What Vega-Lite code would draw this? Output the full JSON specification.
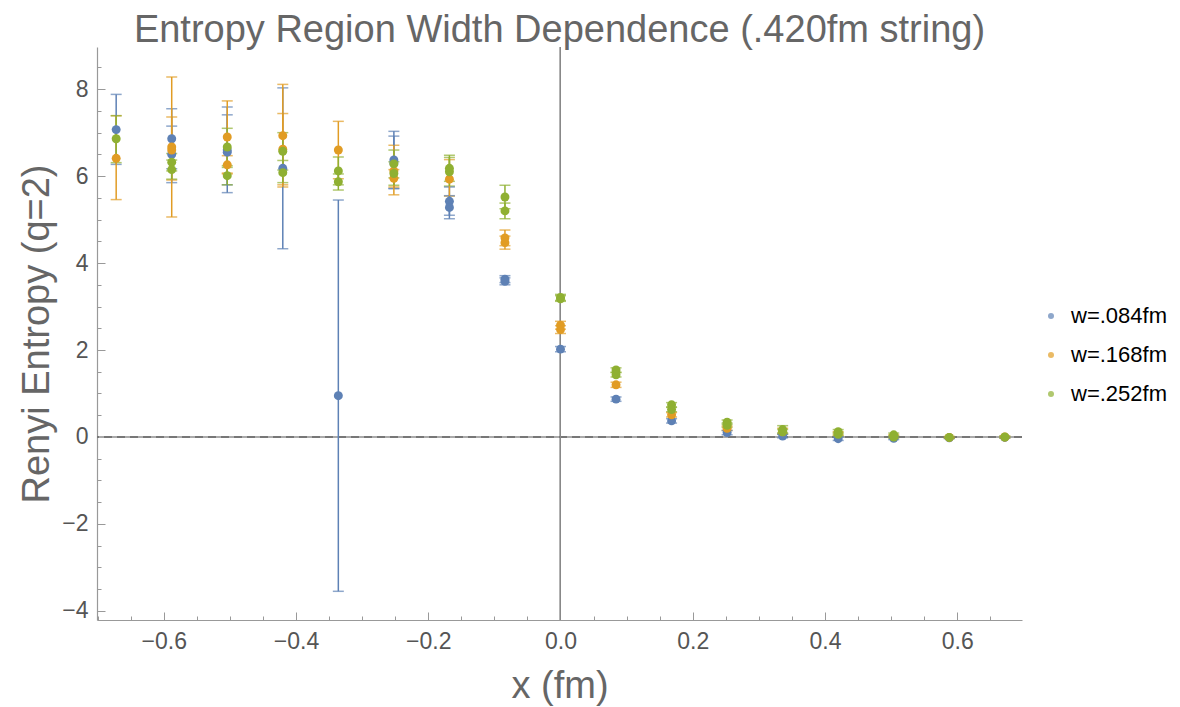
{
  "$schema": "https://vega.github.io/schema/vega-lite/v6.json",
  "autosize": {"type": "none"},
  "width": 925,
  "height": 573,
  "padding": {"left": 97, "top": 47, "right": 158, "bottom": 87},
  "background": "white",
  "config": {
    "font": "Liberation Sans",
    "view": {"stroke": null},
    "axis": {"grid": false, "domainColor": "#999999", "tickColor": "#999999", "labelColor": "#555555", "titleColor": "#666666", "labelFont": "Liberation Sans", "titleFont": "Liberation Sans", "titleFontWeight": "normal"}
  },
  "title": {"text": "Entropy Region Width Dependence (.420fm string)", "fontSize": 38, "font": "Liberation Sans", "fontWeight": "normal", "color": "#666666", "anchor": "middle", "offset": -3},
  "data": {"values": [
    {"x": -0.672, "y": 7.07, "lo": 6.27, "hi": 7.88, "w": "w=.084fm"},
    {"x": -0.588, "y": 6.86, "lo": 6.17, "hi": 7.55, "w": "w=.084fm"},
    {"x": -0.588, "y": 6.50, "lo": 5.85, "hi": 7.15, "w": "w=.084fm"},
    {"x": -0.504, "y": 6.60, "lo": 5.62, "hi": 7.59, "w": "w=.084fm"},
    {"x": -0.504, "y": 6.55, "lo": 5.80, "hi": 7.41, "w": "w=.084fm"},
    {"x": -0.42, "y": 6.18, "lo": 4.33, "hi": 8.03, "w": "w=.084fm"},
    {"x": -0.336, "y": 0.95, "lo": -3.55, "hi": 5.45, "w": "w=.084fm"},
    {"x": -0.252, "y": 6.37, "lo": 5.71, "hi": 7.03, "w": "w=.084fm"},
    {"x": -0.252, "y": 6.30, "lo": 5.72, "hi": 6.92, "w": "w=.084fm"},
    {"x": -0.168, "y": 5.42, "lo": 5.10, "hi": 5.75, "w": "w=.084fm"},
    {"x": -0.168, "y": 5.28, "lo": 5.02, "hi": 5.55, "w": "w=.084fm"},
    {"x": -0.084, "y": 3.63, "lo": 3.55, "hi": 3.71, "w": "w=.084fm"},
    {"x": -0.084, "y": 3.58, "lo": 3.50, "hi": 3.66, "w": "w=.084fm"},
    {"x": 0.0, "y": 2.02, "lo": 1.96, "hi": 2.08, "w": "w=.084fm"},
    {"x": 0.084, "y": 0.87, "lo": 0.82, "hi": 0.92, "w": "w=.084fm"},
    {"x": 0.168, "y": 0.37, "lo": 0.32, "hi": 0.42, "w": "w=.084fm"},
    {"x": 0.252, "y": 0.10, "lo": 0.05, "hi": 0.15, "w": "w=.084fm"},
    {"x": 0.336, "y": 0.02, "lo": -0.02, "hi": 0.06, "w": "w=.084fm"},
    {"x": 0.42, "y": -0.04, "lo": -0.08, "hi": 0.0, "w": "w=.084fm"},
    {"x": 0.504, "y": -0.03, "lo": -0.06, "hi": 0.0, "w": "w=.084fm"},
    {"x": 0.588, "y": -0.02, "lo": -0.04, "hi": 0.0, "w": "w=.084fm"},
    {"x": 0.672, "y": -0.01, "lo": -0.03, "hi": 0.01, "w": "w=.084fm"},

    {"x": -0.672, "y": 6.41, "lo": 5.46, "hi": 7.39, "w": "w=.168fm"},
    {"x": -0.588, "y": 6.67, "lo": 5.06, "hi": 8.28, "w": "w=.168fm"},
    {"x": -0.588, "y": 6.60, "lo": 5.91, "hi": 7.36, "w": "w=.168fm"},
    {"x": -0.504, "y": 6.90, "lo": 6.07, "hi": 7.73, "w": "w=.168fm"},
    {"x": -0.504, "y": 6.26, "lo": 6.05, "hi": 6.47, "w": "w=.168fm"},
    {"x": -0.42, "y": 6.93, "lo": 5.75, "hi": 8.11, "w": "w=.168fm"},
    {"x": -0.42, "y": 6.62, "lo": 5.80, "hi": 7.44, "w": "w=.168fm"},
    {"x": -0.336, "y": 6.60, "lo": 5.94, "hi": 7.26, "w": "w=.168fm"},
    {"x": -0.252, "y": 6.12, "lo": 5.57, "hi": 6.71, "w": "w=.168fm"},
    {"x": -0.252, "y": 5.95, "lo": 5.75, "hi": 6.15, "w": "w=.168fm"},
    {"x": -0.168, "y": 5.93, "lo": 5.54, "hi": 6.38, "w": "w=.168fm"},
    {"x": -0.084, "y": 4.58, "lo": 4.40, "hi": 4.76, "w": "w=.168fm"},
    {"x": -0.084, "y": 4.47, "lo": 4.32, "hi": 4.62, "w": "w=.168fm"},
    {"x": 0.0, "y": 2.57, "lo": 2.48, "hi": 2.66, "w": "w=.168fm"},
    {"x": 0.0, "y": 2.47, "lo": 2.38, "hi": 2.56, "w": "w=.168fm"},
    {"x": 0.084, "y": 1.20, "lo": 1.14, "hi": 1.26, "w": "w=.168fm"},
    {"x": 0.168, "y": 0.51, "lo": 0.46, "hi": 0.56, "w": "w=.168fm"},
    {"x": 0.252, "y": 0.20, "lo": 0.15, "hi": 0.25, "w": "w=.168fm"},
    {"x": 0.336, "y": 0.12, "lo": 0.07, "hi": 0.20, "w": "w=.168fm"},
    {"x": 0.42, "y": 0.08, "lo": 0.04, "hi": 0.12, "w": "w=.168fm"},
    {"x": 0.504, "y": 0.02, "lo": -0.01, "hi": 0.05, "w": "w=.168fm"},
    {"x": 0.588, "y": -0.01, "lo": -0.03, "hi": 0.01, "w": "w=.168fm"},
    {"x": 0.672, "y": 0.0, "lo": -0.02, "hi": 0.02, "w": "w=.168fm"},

    {"x": -0.672, "y": 6.86, "lo": 6.31, "hi": 7.39, "w": "w=.252fm"},
    {"x": -0.588, "y": 6.32, "lo": 6.12, "hi": 6.52, "w": "w=.252fm"},
    {"x": -0.588, "y": 6.15, "lo": 5.93, "hi": 6.37, "w": "w=.252fm"},
    {"x": -0.504, "y": 6.67, "lo": 6.24, "hi": 7.10, "w": "w=.252fm"},
    {"x": -0.504, "y": 6.01, "lo": 5.80, "hi": 6.20, "w": "w=.252fm"},
    {"x": -0.42, "y": 6.57, "lo": 6.14, "hi": 7.00, "w": "w=.252fm"},
    {"x": -0.42, "y": 6.08, "lo": 5.85, "hi": 6.36, "w": "w=.252fm"},
    {"x": -0.336, "y": 6.12, "lo": 5.80, "hi": 6.44, "w": "w=.252fm"},
    {"x": -0.336, "y": 5.87, "lo": 5.68, "hi": 6.05, "w": "w=.252fm"},
    {"x": -0.252, "y": 6.28, "lo": 5.96, "hi": 6.60, "w": "w=.252fm"},
    {"x": -0.252, "y": 6.06, "lo": 5.79, "hi": 6.33, "w": "w=.252fm"},
    {"x": -0.168, "y": 6.18, "lo": 5.88, "hi": 6.48, "w": "w=.252fm"},
    {"x": -0.168, "y": 6.10, "lo": 5.77, "hi": 6.43, "w": "w=.252fm"},
    {"x": -0.084, "y": 5.52, "lo": 5.25, "hi": 5.79, "w": "w=.252fm"},
    {"x": -0.084, "y": 5.20, "lo": 5.02, "hi": 5.38, "w": "w=.252fm"},
    {"x": 0.0, "y": 3.21, "lo": 3.14, "hi": 3.28, "w": "w=.252fm"},
    {"x": 0.0, "y": 3.18, "lo": 3.12, "hi": 3.25, "w": "w=.252fm"},
    {"x": 0.084, "y": 1.54, "lo": 1.49, "hi": 1.59, "w": "w=.252fm"},
    {"x": 0.084, "y": 1.43, "lo": 1.38, "hi": 1.48, "w": "w=.252fm"},
    {"x": 0.168, "y": 0.74, "lo": 0.69, "hi": 0.79, "w": "w=.252fm"},
    {"x": 0.168, "y": 0.63, "lo": 0.58, "hi": 0.68, "w": "w=.252fm"},
    {"x": 0.252, "y": 0.34, "lo": 0.29, "hi": 0.39, "w": "w=.252fm"},
    {"x": 0.252, "y": 0.27, "lo": 0.22, "hi": 0.32, "w": "w=.252fm"},
    {"x": 0.336, "y": 0.17, "lo": 0.10, "hi": 0.26, "w": "w=.252fm"},
    {"x": 0.336, "y": 0.12, "lo": 0.07, "hi": 0.17, "w": "w=.252fm"},
    {"x": 0.42, "y": 0.12, "lo": 0.07, "hi": 0.17, "w": "w=.252fm"},
    {"x": 0.42, "y": 0.06, "lo": 0.02, "hi": 0.10, "w": "w=.252fm"},
    {"x": 0.504, "y": 0.05, "lo": 0.01, "hi": 0.09, "w": "w=.252fm"},
    {"x": 0.504, "y": 0.0, "lo": -0.03, "hi": 0.03, "w": "w=.252fm"},
    {"x": 0.588, "y": -0.01, "lo": -0.03, "hi": 0.01, "w": "w=.252fm"},
    {"x": 0.672, "y": 0.0, "lo": -0.02, "hi": 0.02, "w": "w=.252fm"}
  ]},
  "resolve": {"axis": {"x": "independent", "y": "independent"}},
  "layer": [
    {
      "mark": {"type": "rule", "color": "#aaaaaa", "strokeWidth": 1},
      "encoding": {
        "y": {"datum": 0, "type": "quantitative", "scale": {"domain": [-4.21, 8.97], "nice": false, "zero": false},
          "axis": {"orient": "left", "values": [-4, -3.5, -3, -2.5, -2, -1.5, -1, -0.5, 0, 0.5, 1, 1.5, 2, 2.5, 3, 3.5, 4, 4.5, 5, 5.5, 6, 6.5, 7, 7.5, 8, 8.5], "labels": false, "domain": false, "tickSize": -4, "title": null}}
      }
    },
    {
      "mark": {"type": "rule", "color": "#777777", "strokeWidth": 2, "strokeDash": [8, 5]},
      "encoding": {"y": {"datum": 0, "type": "quantitative", "axis": null}}
    },
    {
      "mark": {"type": "rule", "color": "#888888", "strokeWidth": 1},
      "encoding": {
        "x": {"datum": 0, "type": "quantitative", "scale": {"domain": [-0.701, 0.698], "nice": false, "zero": false},
          "axis": {"orient": "bottom", "values": [-0.7, -0.65, -0.6, -0.55, -0.5, -0.45, -0.4, -0.35, -0.3, -0.25, -0.2, -0.15, -0.1, -0.05, 0, 0.05, 0.1, 0.15, 0.2, 0.25, 0.3, 0.35, 0.4, 0.45, 0.5, 0.55, 0.6, 0.65], "labels": false, "domain": false, "tickSize": -4, "title": null}}
      }
    },
    {
      "mark": {"type": "errorbar", "ticks": {"size": 11, "thickness": 1.5}, "rule": {"strokeWidth": 1.5}},
      "encoding": {
        "x": {"field": "x", "type": "quantitative", "axis": null},
        "y": {"field": "lo", "type": "quantitative", "axis": null},
        "y2": {"field": "hi"},
        "color": {"field": "w", "type": "nominal",
          "scale": {"domain": ["w=.084fm", "w=.168fm", "w=.252fm"], "range": ["#5E81B5", "#E19C24", "#8FB032"]}}
      }
    },
    {
      "mark": {"type": "point", "filled": true, "size": 80, "opacity": 1},
      "encoding": {
        "x": {"field": "x", "type": "quantitative",
          "axis": {"orient": "bottom", "title": "x (fm)", "values": [-0.6, -0.4, -0.2, 0, 0.2, 0.4, 0.6], "format": ".1f", "tickSize": -8, "labelPadding": 18, "labelFontSize": 23, "titleFontSize": 38, "titlePadding": 14, "domainWidth": 1.2}},
        "y": {"field": "y", "type": "quantitative",
          "axis": {"orient": "left", "title": "Renyi Entropy (q=2)", "values": [-4, -2, 0, 2, 4, 6, 8], "format": "d", "tickSize": -8, "labelPadding": 17, "labelFontSize": 23, "titleFontSize": 38, "titlePadding": 5, "domainWidth": 1.2}},
        "color": {"field": "w", "type": "nominal",
          "legend": {"orient": "none", "legendX": 943, "legendY": 258, "title": null, "symbolType": "circle", "symbolSize": 36, "symbolStrokeWidth": 0, "symbolOpacity": 1, "labelFontSize": 22, "labelColor": "#000000", "labelFont": "Liberation Sans", "rowPadding": 17, "labelOffset": 9}}
      }
    }
  ]
}
